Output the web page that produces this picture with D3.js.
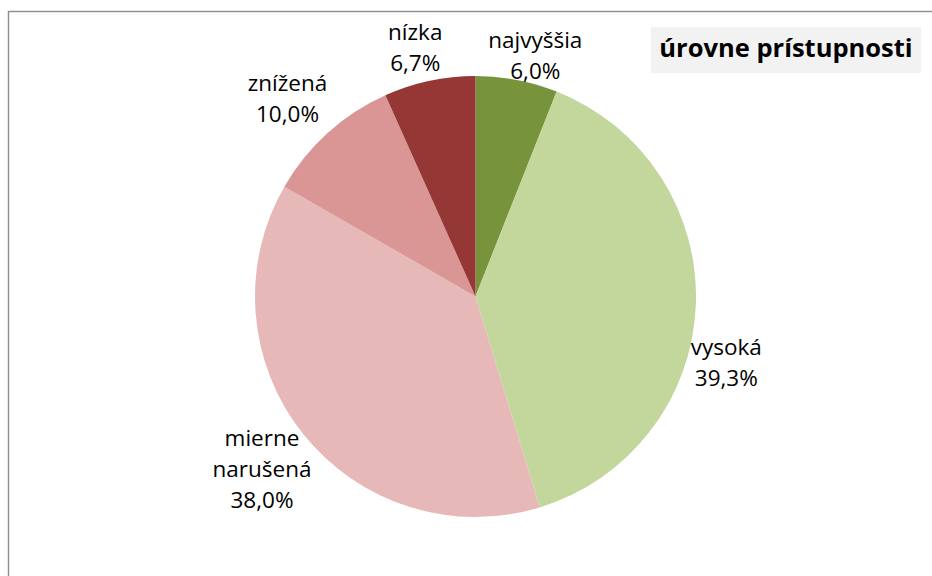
<!DOCTYPE html>
<html>
  <head>
    <meta charset="utf-8">
    <title>úrovne prístupnosti</title>
    <script src="https://cdn.jsdelivr.net/npm/d3@7"></script>
    <style>
      body { margin: 0; background: #fff; }
      svg { display: block; font-family: "Open Sans", "Noto Sans", sans-serif; }
    </style>
  </head>
  <body>
    <div id="chart"></div>

    <script>
      // data
      var categories = ["najvyššia", "vysoká", "mierne narušená", "znížená", "nízka"];
      var labelLines = [["najvyššia"], ["vysoká"], ["mierne", "narušená"], ["znížená"], ["nízka"]];
      var shares = [6.0, 39.3, 38.0, 10.0, 6.7];
      var colours = ["#77933c", "#c3d69b", "#e6b9b8", "#d99694", "#953735"];
      var title = "úrovne prístupnosti";

      // layout
      var width = 932, height = 576;
      var cx = 475.5, cy = 296.5, radius = 220.5;
      var labelRadius = 255, lineHeight = 31;
      // excel "best fit" pushes some labels off the mid angle
      var labelNudge = [[12, 10], [-4, 56], [-14, 14], [-17, -8], [-7, 1]];

      var svg = d3.select("#chart")
        .append("svg")
          .attr("width", width)
          .attr("height", height);

      // chart area border (runs off the right and bottom edges)
      svg.append("rect")
        .attr("x", 8.5)
        .attr("y", 11.5)
        .attr("width", width)
        .attr("height", height)
        .attr("fill", "none")
        .attr("stroke", "#8c8c8c")
        .attr("stroke-width", 1.4);

      var pie = d3.pie()
        .sort(null)
        .value(function(d) { return d; });
      var arcs = pie(shares);

      var arc = d3.arc()
        .innerRadius(0)
        .outerRadius(radius);
      var labelArc = d3.arc()
        .innerRadius(labelRadius)
        .outerRadius(labelRadius);

      var g = svg.append("g")
        .attr("transform", "translate(" + cx + "," + cy + ")");

      g.selectAll(".slice")
        .data(arcs)
        .enter().append("path")
          .attr("class", "slice")
          .attr("d", arc)
          .attr("fill", function(d, i) { return colours[i]; });

      // data labels: category + percentage
      var fmt = function(v) { return d3.format(".1f")(v).replace(".", ",") + "%"; };
      var labels = g.selectAll(".label")
        .data(arcs)
        .enter().append("text")
          .attr("class", "label")
          .attr("text-anchor", "middle")
          .attr("font-size", 22.5)
          .attr("fill", "#000")
          .attr("transform", function(d, i) {
            var c = labelArc.centroid(d);
            return "translate(" + (c[0] + labelNudge[i][0]) + "," + (c[1] + labelNudge[i][1]) + ")";
          });
      labels.each(function(d, i) {
        var lines = labelLines[i].concat([fmt(d.value)]);
        var t = d3.select(this);
        lines.forEach(function(line, j) {
          t.append("tspan")
            .attr("x", 0)
            .attr("y", (j - (lines.length - 1) / 2) * lineHeight + 7.5)
            .text(line);
        });
      });

      // title box
      svg.append("rect")
        .attr("x", 651)
        .attr("y", 27)
        .attr("width", 270)
        .attr("height", 46)
        .attr("fill", "#f2f2f2");
      svg.append("text")
        .attr("x", 786)
        .attr("y", 57)
        .attr("text-anchor", "middle")
        .attr("font-size", 25.5)
        .attr("font-weight", "bold")
        .attr("fill", "#000")
        .text(title);
    </script>
  </body>
</html>
